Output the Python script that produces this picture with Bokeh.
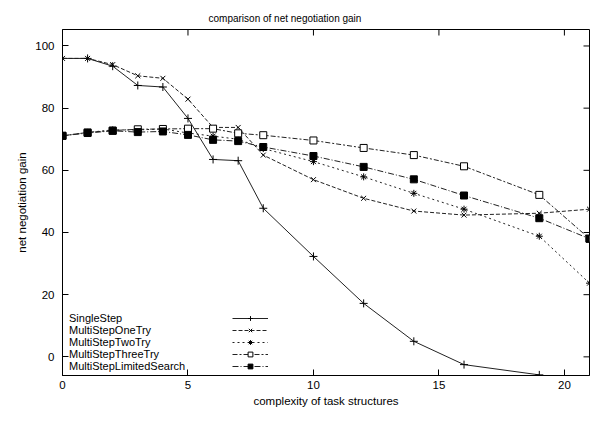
import math
from bokeh.plotting import figure
from bokeh.models import Range1d, Legend, LegendItem, FixedTicker, Title
from bokeh.embed import file_html
from bokeh.resources import INLINE

x_all = [0, 1, 2, 3, 4, 5, 6, 7, 8, 10, 12, 14, 16, 19, 21]
x_single = [0, 1, 2, 3, 4, 5, 6, 7, 8, 10, 12, 14, 16, 19]
single_step = [96, 96, 93.5, 87.3, 86.8, 76.7, 63.5, 63.1, 47.8, 32.3, 17.2, 5.0, -2.5, -5.8]
multi_one = [96, 96, 94, 90.4, 89.6, 82.9, 73.8, 73.8, 64.9, 57, 51, 46.9, 45.6, 46.2, 47.5]
multi_two = [71.1, 72.2, 73, 73, 73.3, 72, 71, 70, 67, 62.8, 57.9, 52.6, 47.5, 38.8, 23.7]
multi_three = [71.1, 72.2, 72.8, 73.2, 73.3, 73.4, 73.4, 71.9, 71.3, 69.6, 67.2, 64.9, 61.3, 52.1, 38]
multi_ls = [71.1, 72, 72.7, 72.3, 72.5, 71.4, 69.8, 69.4, 67.5, 64.6, 61.1, 57.1, 51.9, 44.6, 38]
names = ["SingleStep", "MultiStepOneTry", "MultiStepTwoTry", "MultiStepThreeTry", "MultiStepLimitedSearch"]
x_ticks = [0, 5, 10, 15, 20]
y_ticks = [0, 20, 40, 60, 80, 100]
x_lo, x_hi = 0, 21
y_lo, y_hi = -6, 105.3

FONT = "Liberation Sans"
COL = "#222222"

p = figure(width=590, height=409, output_backend="svg", toolbar_location=None,
           x_range=Range1d(x_lo, x_hi), y_range=Range1d(y_lo, y_hi),
           min_border_left=62, min_border_right=1, min_border_top=29, min_border_bottom=30)
p.xgrid.visible = False
p.ygrid.visible = False
p.outline_line_color = "black"
p.background_fill_color = "white"
p.border_fill_color = "white"

def style_axis(ax):
    ax.major_tick_in = 6
    ax.major_tick_out = 0
    ax.minor_tick_in = 0
    ax.minor_tick_out = 0
    ax.axis_line_color = "black"
    ax.major_tick_line_color = "black"
    ax.major_label_text_font = FONT
    ax.major_label_text_color = "black"
    ax.major_label_text_font_size = "11.5px"
    ax.axis_label_text_font = FONT
    ax.axis_label_text_font_style = "normal"
    ax.axis_label_text_font_size = "11.5px"
    ax.axis_label_text_color = "black"

xa = p.xaxis[0]
xa.ticker = FixedTicker(ticks=x_ticks)
xa.axis_label = "complexity of task structures"
style_axis(xa)
xa.major_label_standoff = 5
xa.axis_label_standoff = 3
ya = p.yaxis[0]
ya.ticker = FixedTicker(ticks=y_ticks)
ya.axis_label = "net negotiation gain"
style_axis(ya)
ya.major_label_standoff = 8
ya.axis_label_standoff = 4

# mirror ticks on the top and right frame edges, 6 px long, pointing inward
p.ray(x_ticks, [y_hi] * len(x_ticks), length=6, length_units="screen",
      angle=-math.pi / 2, line_color="black", line_width=1)
p.ray([x_hi] * len(y_ticks), y_ticks, length=6, length_units="screen",
      angle=math.pi, line_color="black", line_width=1)

p.title = Title(text="comparison of net negotiation gain", align="left", offset=146,
                text_font=FONT, text_font_size="10px", text_font_style="normal",
                text_color="black", standoff=12)

series = [
    (x_single, single_step, "solid", "cross", "black", 8),
    (x_all, multi_one, "4 2", "x", "black", 7),
    (x_all, multi_two, "2 3", "asterisk", "black", 7),
    (x_all, multi_three, "5 2 2 2", "square", "white", 7),
    (x_all, multi_ls, "6 2 1 2", "square", "black", 7),
]

text_items = []
glyph_items = []
for (xs, ys, dash, marker, fill, size), name in zip(series, names):
    rl = p.line(xs, ys, line_color=COL, line_width=1, line_dash=dash)
    rs = p.scatter(xs, ys, marker=marker, size=size, line_color="black", fill_color=fill, line_width=1)
    dummy = p.line([], [], line_alpha=0)
    text_items.append(LegendItem(label=name, renderers=[dummy]))
    glyph_items.append(LegendItem(label=" ", renderers=[rl, rs]))

def style_legend(lg):
    lg.background_fill_alpha = 0
    lg.border_line_alpha = 0
    lg.padding = 0
    lg.margin = 0
    lg.spacing = 0
    lg.label_height = 12
    lg.glyph_height = 12
    lg.label_text_font = FONT
    lg.label_text_font_size = "11px"
    lg.label_text_color = "black"
    lg.label_text_line_height = 1.0

lt = Legend(items=text_items, location=(7, 3))
style_legend(lt)
lt.glyph_width = 0
lt.label_standoff = 0
p.add_layout(lt, "center")

lgl = Legend(items=glyph_items, location=(170, 3))
style_legend(lgl)
lgl.glyph_width = 36
lgl.label_standoff = 0
lgl.label_width = 0
p.add_layout(lgl, "center")

open("out.html", "w").write(file_html(p, INLINE))
